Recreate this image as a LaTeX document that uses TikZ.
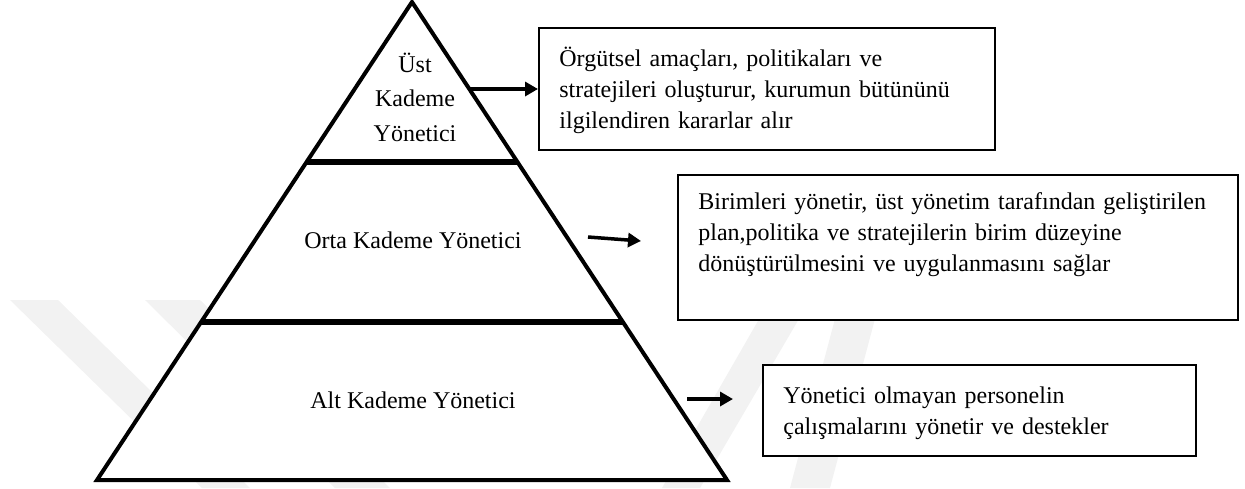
\documentclass[tikz,border=0pt]{standalone}
\usepackage{fontspec}
\setmainfont{Liberation Serif}
\usetikzlibrary{arrows.meta,calc}
\begin{document}
\begin{tikzpicture}[x=0.5pt,y=-0.5pt,
  pyr/.style={line width=2pt,line join=miter},
  divider/.style={line width=2.8pt},
  infobox/.style={draw,line width=1pt,fill=white},
  boxtext/.style={anchor=base west,inner sep=0pt,align=left,text width=270pt,font=\fontsize{12}{15.5}\selectfont},
  lvltext/.style={anchor=base,inner sep=0pt,font=\fontsize{12}{15.5}\selectfont},
  arr/.style={line width=1.75pt,-{Triangle[length=6.5pt,width=7pt]}},
  wm/.style={fill=black!5,draw=none}
]
\useasboundingbox (0,0) rectangle (1245,488);
% faint watermark
\fill[wm] (10,300) -- (58,300) -- (250,488) -- (202,488) -- cycle;
\fill[wm] (145,300) -- (200,300) -- (390,488) -- (335,488) -- cycle;
\fill[wm] (662,488) -- (700,488) -- (810,300) -- (770,300) -- cycle;
\fill[wm] (790,488) -- (830,488) -- (880,300) -- (840,300) -- cycle;
% pyramid
\coordinate (apex) at (412,2);
\coordinate (bl) at (97,480);
\coordinate (br) at (727,480);
\filldraw[pyr,fill=white] (apex) -- (br) -- (bl) -- cycle;
\coordinate (d1l) at ($(apex)!{160/478}!(bl)$);
\coordinate (d1r) at ($(apex)!{160/478}!(br)$);
\coordinate (d2l) at ($(apex)!{320/478}!(bl)$);
\coordinate (d2r) at ($(apex)!{320/478}!(br)$);
\draw[divider] (d1l) -- (d1r);
\draw[divider] (d2l) -- (d2r);
% level labels
\node[lvltext,align=center,font=\fontsize{12}{17.25}\selectfont,text width=60pt] (ust) at (415,72) {Üst\\Kademe\\Yönetici};
\node[lvltext] (orta) at (413,248) {Orta Kademe Yönetici};
\node[lvltext] (alt) at (413,408) {Alt Kademe Yönetici};
% boxes
\node[infobox,anchor=north west,minimum width=228pt,minimum height=61pt,inner sep=0pt] (b1) at (538,27) {};
\node[infobox,anchor=north west,minimum width=280pt,minimum height=72.5pt,inner sep=0pt] (b2) at (677,174) {};
\node[infobox,anchor=north west,minimum width=216.5pt,minimum height=45.5pt,inner sep=0pt] (b3) at (762,364) {};
\node[boxtext] (t1) at (559,66) {Örgütsel amaçları, politikaları ve\\stratejileri oluşturur, kurumun bütününü\\ilgilendiren kararlar alır};
\node[boxtext] (t2) at (698,209) {Birimleri yönetir, üst yönetim tarafından geliştirilen\\plan,politika ve stratejilerin birim düzeyine\\dönüştürülmesini ve uygulanmasını sağlar};
\node[boxtext] (t3) at (783,403) {Yönetici olmayan personelin\\çalışmalarını yönetir ve destekler};
% arrows
\coordinate (a1s) at ($(apex)!{87/478}!(br)$);
\draw[arr] (a1s) -- (b1.west |- a1s);
\coordinate (a2s) at (588,237);
\coordinate (a2e) at (641,241);
\draw[arr] (a2s) -- (a2e);
\coordinate (a3s) at (687,399);
\coordinate (a3e) at (733,399);
\draw[arr] (a3s) -- (a3e);
\end{tikzpicture}
\end{document}
